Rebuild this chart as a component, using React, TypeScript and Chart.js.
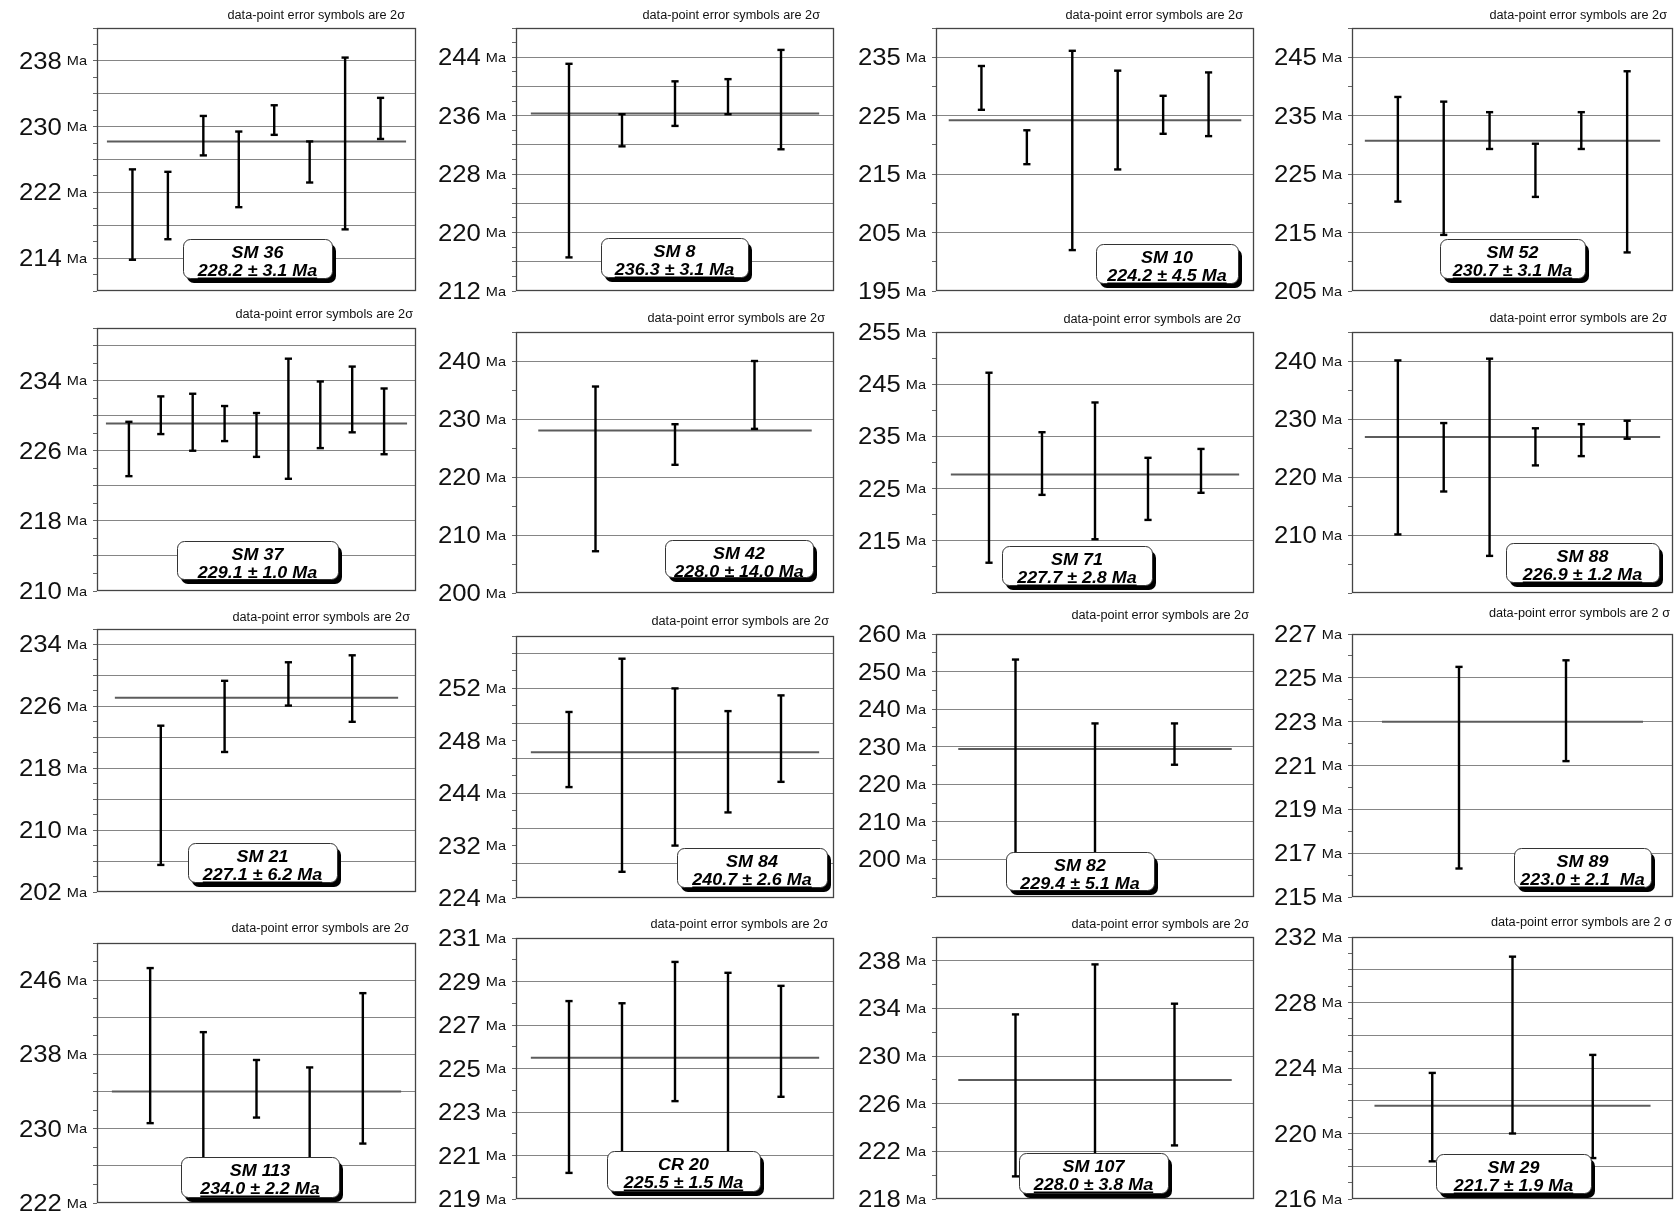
import { useEffect, useRef } from "react";
import { Chart, registerables } from "chart.js";

Chart.register(...registerables);

// ---------------- DATA ----------------
const TITLE = "data-point error symbols are 2σ";
const TITLE_SPACED = "data-point error symbols are 2 σ";

const sampleNames = ["SM 36", "SM 8", "SM 10", "SM 52", "SM 37", "SM 42", "SM 71", "SM 88", "SM 21", "SM 84", "SM 82", "SM 89", "SM 113", "CR 20", "SM 107", "SM 29"];
const weightedAges = [228.2, 236.3, 224.2, 230.7, 229.1, 228.0, 227.7, 226.9, 227.1, 240.7, 229.4, 223.0, 234.0, 225.5, 228.0, 221.7];
const ageTexts = ["228.2 ± 3.1 Ma", "236.3 ± 3.1 Ma", "224.2 ± 4.5 Ma", "230.7 ± 3.1 Ma", "229.1 ± 1.0 Ma", "228.0 ± 14.0 Ma", "227.7 ± 2.8 Ma", "226.9 ± 1.2 Ma", "227.1 ± 6.2 Ma", "240.7 ± 2.6 Ma", "229.4 ± 5.1 Ma", "223.0 ± 2.1  Ma", "234.0 ± 2.2 Ma", "225.5 ± 1.5 Ma", "228.0 ± 3.8 Ma", "221.7 ± 1.9 Ma"];

// upper / lower 2σ limits of every analysis (Ma)
const sm36Upper = [224.8, 224.5, 231.3, 229.4, 232.6, 228.2, 238.4, 233.5];
const sm36Lower = [213.8, 216.3, 226.5, 220.2, 229.0, 223.2, 217.5, 228.5];
const sm8Upper = [243.1, 236.2, 240.7, 241.0, 245.0];
const sm8Lower = [216.6, 231.8, 234.6, 236.2, 231.4];
const sm10Upper = [233.5, 222.5, 236.1, 232.7, 228.4, 232.4];
const sm10Lower = [226.0, 216.7, 202.0, 215.8, 221.9, 221.5];
const sm52Upper = [238.2, 237.4, 235.6, 230.2, 235.6, 242.6];
const sm52Lower = [220.3, 214.6, 229.3, 221.1, 229.3, 211.6];
const sm37Upper = [229.3, 232.2, 232.5, 231.1, 230.3, 236.5, 233.9, 235.6, 233.1];
const sm37Lower = [223.1, 227.9, 226.0, 227.1, 225.3, 222.8, 226.3, 228.1, 225.6];
const sm42Upper = [235.6, 229.1, 240.0];
const sm42Lower = [207.2, 222.1, 228.3];
const sm71Upper = [247.2, 235.8, 241.5, 230.9, 232.6];
const sm71Lower = [210.8, 223.8, 215.3, 219.0, 224.2];
const sm88Upper = [240.1, 229.3, 240.4, 228.4, 229.1, 229.7];
const sm88Lower = [210.1, 217.5, 206.4, 222.0, 223.6, 226.6];
const sm21Upper = [223.5, 229.3, 231.7, 232.6];
const sm21Lower = [205.5, 220.1, 226.1, 224.0];
const sm84Upper = [245.3, 251.4, 248.0, 245.4, 247.2];
const sm84Lower = [236.7, 227.0, 230.0, 233.8, 237.3];
const sm82Upper = [253.2, 236.2, 236.2];
const sm82Lower = [200.0, 201.0, 225.2];
const sm89Upper = [225.5, 225.8];
const sm89Lower = [216.3, 221.2];
const sm113Upper = [247.3, 240.4, 237.4, 236.6, 244.6];
const sm113Lower = [230.6, 226.0, 231.2, 226.5, 228.4];
const cr20Upper = [228.1, 228.0, 229.9, 229.4, 228.8];
const cr20Lower = [220.2, 220.0, 223.5, 220.5, 223.7];
const sm107Upper = [233.5, 237.7, 234.4];
const sm107Lower = [219.9, 219.5, 222.5];
const sm29Upper = [223.7, 230.8, 224.8];
const sm29Lower = [218.3, 220.0, 218.5];

// axis ranges [min, max, gridline step]
const sm36Axis = [210, 242, 4];
const sm8Axis = [212, 248, 4];
const sm10Axis = [195, 240, 10];
const sm52Axis = [205, 250, 10];
const sm37Axis = [210, 240, 4];
const sm42Axis = [200, 245, 10];
const sm71Axis = [205, 255, 10];
const sm88Axis = [200, 245, 10];
const sm21Axis = [202, 236, 4];
const sm84Axis = [224, 254, 4];
const sm82Axis = [190, 260, 10];
const sm89Axis = [215, 227, 2];
const sm113Axis = [222, 250, 4];
const cr20Axis = [219, 231, 2];
const sm107Axis = [218, 240, 4];
const sm29Axis = [216, 232, 2];

// tick labels (values where a label is written)
const sm36Ticks = [214, 222, 230, 238];
const sm8Ticks = [212, 220, 228, 236, 244];
const sm10Ticks = [195, 205, 215, 225, 235];
const sm52Ticks = [205, 215, 225, 235, 245];
const sm37Ticks = [210, 218, 226, 234];
const sm42Ticks = [200, 210, 220, 230, 240];
const sm71Ticks = [215, 225, 235, 245, 255];
const sm88Ticks = [210, 220, 230, 240];
const sm21Ticks = [202, 210, 218, 226, 234];
const sm84Ticks = [224, 230, 236, 242, 248];
const sm84TickText = ["224", "232", "244", "248", "252"]; // as printed in the original
const sm82Ticks = [200, 210, 220, 230, 240, 250, 260];
const sm89Ticks = [215, 217, 219, 221, 223, 225, 227];
const sm113Ticks = [222, 230, 238, 246];
const cr20Ticks = [219, 221, 223, 225, 227, 229, 231];
const sm107Ticks = [218, 222, 226, 230, 234, 238];
const sm29Ticks = [216, 220, 224, 228, 232];

const samples = [
  { upper: sm36Upper, lower: sm36Lower, axis: sm36Axis, ticks: sm36Ticks, tickText: null as string[] | null },
  { upper: sm8Upper, lower: sm8Lower, axis: sm8Axis, ticks: sm8Ticks, tickText: null },
  { upper: sm10Upper, lower: sm10Lower, axis: sm10Axis, ticks: sm10Ticks, tickText: null },
  { upper: sm52Upper, lower: sm52Lower, axis: sm52Axis, ticks: sm52Ticks, tickText: null },
  { upper: sm37Upper, lower: sm37Lower, axis: sm37Axis, ticks: sm37Ticks, tickText: null },
  { upper: sm42Upper, lower: sm42Lower, axis: sm42Axis, ticks: sm42Ticks, tickText: null },
  { upper: sm71Upper, lower: sm71Lower, axis: sm71Axis, ticks: sm71Ticks, tickText: null },
  { upper: sm88Upper, lower: sm88Lower, axis: sm88Axis, ticks: sm88Ticks, tickText: null },
  { upper: sm21Upper, lower: sm21Lower, axis: sm21Axis, ticks: sm21Ticks, tickText: null },
  { upper: sm84Upper, lower: sm84Lower, axis: sm84Axis, ticks: sm84Ticks, tickText: sm84TickText },
  { upper: sm82Upper, lower: sm82Lower, axis: sm82Axis, ticks: sm82Ticks, tickText: null },
  { upper: sm89Upper, lower: sm89Lower, axis: sm89Axis, ticks: sm89Ticks, tickText: null },
  { upper: sm113Upper, lower: sm113Lower, axis: sm113Axis, ticks: sm113Ticks, tickText: null },
  { upper: cr20Upper, lower: cr20Lower, axis: cr20Axis, ticks: cr20Ticks, tickText: null },
  { upper: sm107Upper, lower: sm107Lower, axis: sm107Axis, ticks: sm107Ticks, tickText: null },
  { upper: sm29Upper, lower: sm29Lower, axis: sm29Axis, ticks: sm29Ticks, tickText: null },
];

// ---------------- LAYOUT (page pixels) ----------------
const LAYOUT = [
  { box: [97, 28, 416, 291], label: [183, 239, 332, 278], title: [405, 15] },
  { box: [516, 28, 834, 291], label: [601, 238, 748, 277], title: [820, 15] },
  { box: [936, 28, 1254, 291], label: [1096, 244, 1238, 283], title: [1243, 15] },
  { box: [1352, 28, 1673, 291], label: [1440, 239, 1585, 278], title: [1667, 15] },
  { box: [97, 328, 416, 591], label: [177, 541, 338, 579], title: [413, 314] },
  { box: [516, 332, 834, 593], label: [665, 540, 813, 577], title: [825, 318] },
  { box: [936, 332, 1254, 593], label: [1002, 546, 1152, 585], title: [1241, 319] },
  { box: [1352, 332, 1673, 593], label: [1506, 543, 1659, 582], title: [1667, 318] },
  { box: [97, 629, 416, 892], label: [188, 843, 337, 882], title: [410, 617] },
  { box: [516, 636, 834, 898], label: [677, 848, 827, 887], title: [829, 621] },
  { box: [936, 634, 1254, 897], label: [1006, 852, 1154, 890], title: [1249, 615] },
  { box: [1352, 634, 1673, 897], label: [1514, 848, 1651, 887], title: [1670, 613] },
  { box: [97, 943, 416, 1203], label: [181, 1157, 339, 1197], title: [409, 928] },
  { box: [516, 938, 834, 1199], label: [607, 1151, 760, 1191], title: [828, 924] },
  { box: [936, 937, 1254, 1199], label: [1019, 1153, 1168, 1193], title: [1249, 924] },
  { box: [1352, 937, 1673, 1199], label: [1436, 1154, 1591, 1193], title: [1672, 922] },
];

const PAD_L = 100;
const PAD_T = 34;
const PAD_R = 8;
const PAD_B = 14;
const AXIS_W = 5;
const FONT = '"Liberation Sans", Arial, Helvetica, sans-serif';

function drawStretched(ctx: CanvasRenderingContext2D, text: string, x: number, y: number, sx: number) {
  ctx.save();
  ctx.translate(x, y);
  ctx.scale(sx, 1);
  ctx.textAlign = "left";
  ctx.textBaseline = "alphabetic";
  ctx.fillText(text, 0, 0);
  ctx.restore();
}

function roundRectPath(ctx: CanvasRenderingContext2D, x: number, y: number, w: number, h: number, r: number) {
  ctx.beginPath();
  ctx.moveTo(x + r, y);
  ctx.lineTo(x + w - r, y);
  ctx.arcTo(x + w, y, x + w, y + r, r);
  ctx.lineTo(x + w, y + h - r);
  ctx.arcTo(x + w, y + h, x + w - r, y + h, r);
  ctx.lineTo(x + r, y + h);
  ctx.arcTo(x, y + h, x, y + h - r, r);
  ctx.lineTo(x, y + r);
  ctx.arcTo(x, y, x + r, y, r);
  ctx.closePath();
}

const decorPlugin = {
  id: "decor",
  beforeDatasetsDraw(chart: any) {
    const { ctx, chartArea: a } = chart;
    ctx.save();
    ctx.strokeStyle = "#444";
    ctx.lineWidth = 1.3;
    ctx.strokeRect(a.left + 0.5, a.top + 0.5, a.right - a.left - 1, a.bottom - a.top - 1);
    ctx.restore();
  },
  afterDatasetsDraw(chart: any) {
    const o = chart.options.plugins.decor;
    const { ctx } = chart;
    const [l, t, r, b] = o.label;
    const x = l - o.ox;
    const y = t - o.oy;
    const w = r - l;
    const h = b - t;
    ctx.save();
    // shadow
    ctx.fillStyle = "#000";
    roundRectPath(ctx, x + 4, y + 5, w, h, 7);
    ctx.fill();
    // box
    ctx.fillStyle = "#fff";
    ctx.strokeStyle = "#333";
    ctx.lineWidth = 1;
    roundRectPath(ctx, x + 0.5, y + 0.5, w, h, 7);
    ctx.fill();
    ctx.stroke();
    // text
    ctx.fillStyle = "#000";
    ctx.font = `italic bold 16px ${FONT}`;
    const sx = 1.12;
    const cx = x + w / 2;
    const w1 = ctx.measureText(o.name).width * sx;
    drawStretched(ctx, o.name, cx - w1 / 2, y + 18.5, sx);
    const w2 = ctx.measureText(o.age).width * sx;
    drawStretched(ctx, o.age, cx - w2 / 2, y + 37, sx);
    ctx.fillRect(cx - w2 / 2, y + 38.5, w2, 1.6);
    ctx.restore();
  },
  afterDraw(chart: any) {
    const o = chart.options.plugins.decor;
    const { ctx, chartArea: a } = chart;
    const ys = chart.scales.y;
    ctx.save();
    ctx.fillStyle = "#111";
    o.ticks.forEach((v: number, i: number) => {
      const y = ys.getPixelForValue(v);
      const txt = o.tickText ? o.tickText[i] : String(v);
      ctx.font = `13px ${FONT}`;
      const maW = ctx.measureText("Ma").width * 1.12;
      const maX = a.left - 10 - maW;
      drawStretched(ctx, "Ma", maX, y + 4.5, 1.12);
      ctx.font = `24px ${FONT}`;
      const nW = ctx.measureText(txt).width * 1.07;
      drawStretched(ctx, txt, maX - 5 - nW, y + 8, 1.07);
    });
    // title
    ctx.font = `12px ${FONT}`;
    const tW = ctx.measureText(o.title).width * 1.06;
    drawStretched(ctx, o.title, o.titlePos[0] - o.ox - tW, o.titlePos[1] - o.oy + 4, 1.06);
    ctx.restore();
  },
};

function buildConfig(i: number) {
  const s = samples[i];
  const lay = LAYOUT[i];
  const [min, max, step] = s.axis;
  const minor = step / 2;
  const n = s.upper.length;
  const mean = weightedAges[i];
  const ox = lay.box[0] - PAD_L;
  const oy = lay.box[1] - PAD_T;
  const tickValues: number[] = [];
  for (let v = min; v <= max + 1e-9; v += minor) tickValues.push(Math.round(v * 1000) / 1000);
  const isGrid = (v: number) => {
    const k = (v - min) / step;
    return Math.abs(k - Math.round(k)) < 1e-6 && v > min && v < max;
  };
  const barData: any[] = [];
  s.upper.forEach((u, j) => {
    barData.push({ x: j + 1, y: s.lower[j] });
    barData.push({ x: j + 1, y: u });
    barData.push({ x: j + 1, y: null });
  });
  return {
    type: "line",
    data: {
      datasets: [
        {
          label: "analyses",
          data: barData,
          borderColor: "#000",
          borderWidth: 2.4,
          spanGaps: false,
          tension: 0,
          pointStyle: "line",
          pointRadius: 3.6,
          pointHoverRadius: 3.6,
          pointBorderWidth: 2.4,
          pointBorderColor: "#000",
          pointBackgroundColor: "#000",
          order: 0,
        },
        {
          label: "weighted mean",
          data: [
            { x: 0.28, y: mean },
            { x: n + 0.72, y: mean },
          ],
          borderColor: "#5c5c5c",
          borderWidth: 2,
          pointRadius: 0,
          pointHoverRadius: 0,
          order: 1,
        },
      ],
    },
    options: {
      animation: false,
      responsive: false,
      maintainAspectRatio: false,
      events: [],
      layout: { padding: { left: PAD_L - AXIS_W, top: PAD_T, right: PAD_R, bottom: PAD_B } },
      plugins: {
        legend: { display: false },
        tooltip: { enabled: false },
        title: { display: false },
        decor: {
          ox,
          oy,
          label: lay.label,
          titlePos: lay.title,
          title: i === 11 || i === 15 ? TITLE_SPACED : TITLE,
          name: sampleNames[i],
          age: ageTexts[i],
          ticks: s.ticks,
          tickText: s.tickText,
        },
      },
      scales: {
        x: { type: "linear", min: 0, max: n + 1, display: false },
        y: {
          type: "linear",
          min,
          max,
          afterBuildTicks: (axis: any) => {
            axis.ticks = tickValues.map((v) => ({ value: v }));
          },
          afterFit: (scale: any) => {
            scale.width = AXIS_W;
          },
          ticks: { display: false },
          border: { display: false },
          grid: {
            drawTicks: true,
            tickLength: 4,
            lineWidth: 1,
            tickWidth: 1,
            color: (c: any) => (c.tick && isGrid(c.tick.value) ? "#858585" : "rgba(0,0,0,0)"),
            tickColor: "#666",
          },
        },
      },
    },
    plugins: [decorPlugin],
  };
}

function Panel({ index }: { index: number }) {
  const ref = useRef<HTMLCanvasElement>(null);
  const lay = LAYOUT[index];
  const left = lay.box[0] - PAD_L;
  const top = lay.box[1] - PAD_T;
  const width = lay.box[2] - lay.box[0] + PAD_L + PAD_R;
  const height = lay.box[3] - lay.box[1] + PAD_T + PAD_B;
  useEffect(() => {
    const chart = new Chart(ref.current as HTMLCanvasElement, buildConfig(index) as any);
    return () => chart.destroy();
  }, [index]);
  return (
    <canvas
      ref={ref}
      width={width}
      height={height}
      style={{ position: "absolute", left, top, width, height }}
    />
  );
}

export default function App() {
  return (
    <div
      style={{
        position: "absolute",
        left: 0,
        top: 0,
        width: 1679,
        height: 1214,
        background: "#fff",
        overflow: "hidden",
      }}
    >
      {samples.map((_, i) => (
        <Panel key={i} index={i} />
      ))}
    </div>
  );
}
